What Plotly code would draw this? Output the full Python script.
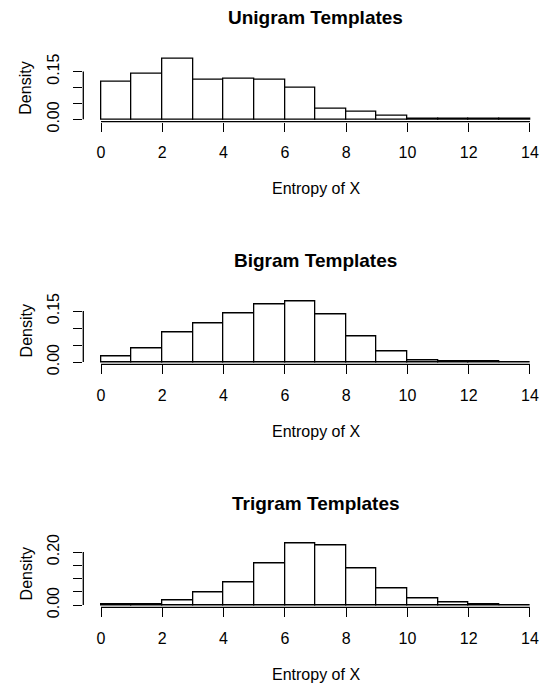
import plotly.graph_objects as go

# ---- data ----
breaks = list(range(0, 15))  # bin edges 0..14
titles = ["Unigram Templates", "Bigram Templates", "Trigram Templates"]
unigram_density = [0.119, 0.144, 0.192, 0.126, 0.129, 0.124, 0.099, 0.034, 0.023, 0.011, 0.002, 0.001, 0.0005, 0.0005]
bigram_density = [0.0167, 0.041, 0.086, 0.113, 0.144, 0.168, 0.178, 0.140, 0.074, 0.030, 0.006, 0.002, 0.0005, 0.0002]
trigram_density = [0.001, 0.002, 0.016, 0.048, 0.086, 0.157, 0.231, 0.224, 0.137, 0.064, 0.024, 0.008, 0.004, 0.0]
x_ticks = [0, 2, 4, 6, 8, 10, 12, 14]
y_ticks = [[0, 0.05, 0.10, 0.15], [0, 0.05, 0.10, 0.15], [0, 0.05, 0.10, 0.15, 0.20]]
y_ticktext = [["0.00", "", "", "0.15"], ["0.00", "", "", "0.15"], ["0.00", "", "", "", "0.20"]]
x_label = "Entropy of X"
y_label = "Density"
series = [unigram_density, bigram_density, trigram_density]

# ---- layout constants (pixels, page coordinates) ----
W, H = 540, 684
FONT = "Liberation Sans, Arial, Helvetica, sans-serif"
x0_px, px_per_x = 101.0, 30.64       # x=0 position, px per unit
left_px = 83.3
zero_px = [119.3, 362.0, 605.0]       # y=0 pixel row per panel
px_per_y = [318.0, 340.0, 265.0]      # px per density unit
axis_gap = 2.4
region_h = 66.0
LW = 1.3

def px_x(p):
    return p / W

def py(p):
    return 1 - p / H

centers = [(a + b) / 2 for a, b in zip(breaks[:-1], breaks[1:])]
widths = [b - a for a, b in zip(breaks[:-1], breaks[1:])]

fig = go.Figure()
shapes = []
annotations = []
layout_axes = {}

for i, dens in enumerate(series):
    n = "" if i == 0 else str(i + 1)
    xa, ya = "x" + n, "y" + n
    fig.add_trace(go.Bar(
        x=centers, y=dens, width=widths,
        marker=dict(color="white", line=dict(color="black", width=LW)),
        xaxis=xa, yaxis=ya, showlegend=False, hoverinfo="x+y"))

    bottom_px = zero_px[i] + axis_gap
    top_px = bottom_px - region_h
    y_lo = -(bottom_px - zero_px[i]) / px_per_y[i]
    y_hi = (zero_px[i] - top_px) / px_per_y[i]
    x_lo = -(x0_px - left_px) / px_per_x
    x_hi = (W - x0_px) / px_per_x

    layout_axes["xaxis" + n] = dict(
        domain=[px_x(left_px), 1], range=[x_lo, x_hi], anchor=ya,
        showgrid=False, zeroline=False, showline=False, automargin=False,
        tickmode="array", tickvals=x_ticks, ticktext=[str(t) for t in x_ticks],
        ticks="outside", ticklen=9, tickwidth=LW, tickcolor="black",
        ticklabelstandoff=7, ticklabeloverflow="allow",
        tickfont=dict(family=FONT, size=16, color="black"))
    layout_axes["yaxis" + n] = dict(
        domain=[py(bottom_px), py(top_px)], range=[y_lo, y_hi], anchor=xa,
        showgrid=False, zeroline=False, showline=False, automargin=False,
        tickmode="array", tickvals=y_ticks[i], ticktext=y_ticktext[i],
        ticks="outside", ticklen=9, tickwidth=LW, tickcolor="black",
        tickangle=-90, ticklabelstandoff=8, ticklabeloverflow="allow",
        tickfont=dict(family=FONT, size=16, color="black"))

    # axis lines spanning first..last tick (R style)
    shapes.append(dict(type="line", xref=xa, yref=ya + " domain",
                       x0=x_ticks[0], x1=x_ticks[-1], y0=0, y1=0,
                       line=dict(color="black", width=LW)))
    shapes.append(dict(type="line", xref=xa + " domain", yref=ya,
                       x0=0, x1=0, y0=y_ticks[i][0], y1=y_ticks[i][-1],
                       line=dict(color="black", width=LW)))

    offset = zero_px[i] - zero_px[0]
    annotations.append(dict(text="<b>" + titles[i] + "</b>", xref="paper", yref="paper",
                            x=px_x(315.5), y=py(18 + offset), xanchor="center", yanchor="middle",
                            showarrow=False, font=dict(family=FONT, size=19, color="black")))
    annotations.append(dict(text=x_label, xref="paper", yref="paper",
                            x=px_x(315.5), y=py(188.5 + offset), xanchor="center", yanchor="middle",
                            showarrow=False, font=dict(family=FONT, size=16, color="black")))
    annotations.append(dict(text=y_label, xref="paper", yref="paper",
                            x=px_x(26), y=py((bottom_px + top_px) / 2), xanchor="center", yanchor="middle",
                            textangle=-90, showarrow=False,
                            font=dict(family=FONT, size=16, color="black")))

fig.update_layout(
    template="none",
    width=W, height=H, margin=dict(l=0, r=0, t=0, b=0, pad=0, autoexpand=False),
    paper_bgcolor="white", plot_bgcolor="white",
    bargap=0, shapes=shapes, annotations=annotations, **layout_axes)

fig.write_html("out.html", config={"displayModeBar": False},
               post_script="document.body.style.margin='0px';document.body.style.overflow='hidden';")
